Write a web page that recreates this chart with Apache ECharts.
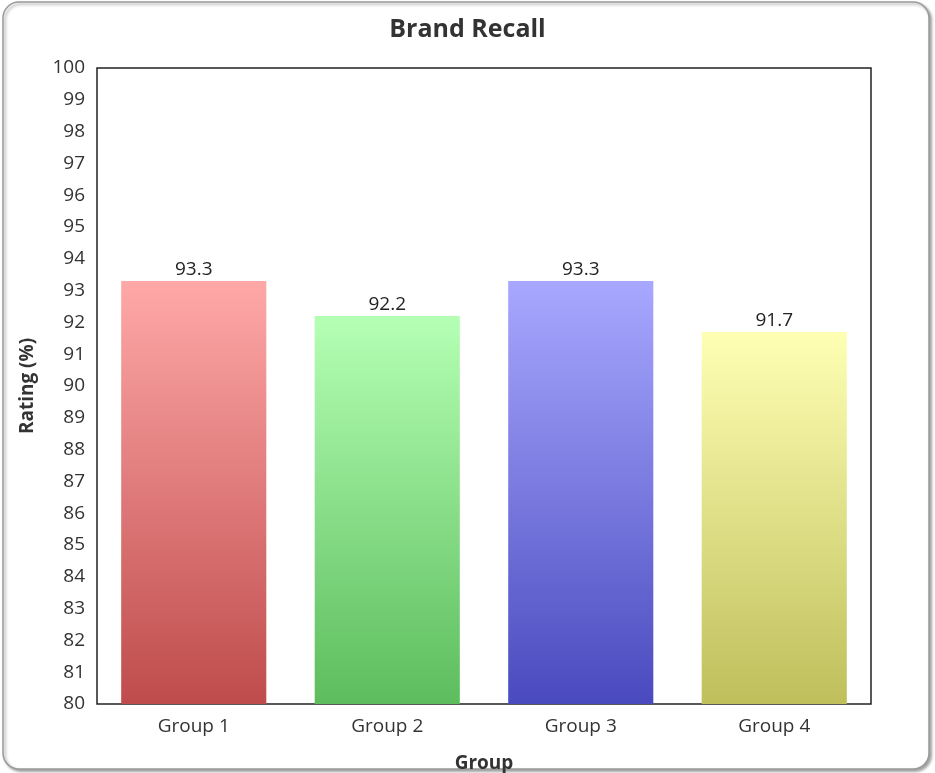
<!DOCTYPE html>
<html>
<head>
<meta charset="utf-8">
<style>
  html, body { margin: 0; padding: 0; background: #ffffff; }
  #chart { width: 935px; height: 773px; }
</style>
<script src="https://cdn.jsdelivr.net/npm/echarts@6/dist/echarts.min.js"></script>
</head>
<body>
<div id="chart"></div>
<script>
// Brand recall rating per group
const categories = ['Group 1', 'Group 2', 'Group 3', 'Group 4'];
const ratings = [93.3, 92.2, 93.3, 91.7];
// Gradient stops per bar: [top colour, bottom colour]
const barColors = [
  ['#ffa8a8', '#bf4c4c'],
  ['#b4ffb4', '#5dbd5d'],
  ['#a8a8ff', '#4a4abf'],
  ['#ffffb4', '#bfbf5c']
];

const FONT = '"Open Sans", "Noto Sans", sans-serif';
const chart = echarts.init(document.getElementById('chart'), null, { renderer: 'canvas' });

chart.setOption({
  animation: false,
  backgroundColor: '#ffffff',
  graphic: [{
    type: 'rect',
    z: -10,
    shape: { x: 3, y: 2, width: 926, height: 767, r: 16 },
    style: {
      fill: '#ffffff',
      stroke: '#9a9a9a',
      lineWidth: 1.5,
      shadowBlur: 3,
      shadowOffsetX: 2,
      shadowOffsetY: 2,
      shadowColor: 'rgba(0,0,0,0.35)'
    }
  }],
  title: {
    text: 'Brand Recall',
    left: 'center',
    top: 12,
    textStyle: { fontFamily: FONT, fontSize: 25, fontWeight: 'bold', color: '#333333' }
  },
  grid: {
    left: 97, right: 64, top: 68, bottom: 69,
    outerBoundsMode: 'none',
    containLabel: false,
    show: true,
    borderColor: '#222222',
    borderWidth: 1.5,
    backgroundColor: 'transparent'
  },
  xAxis: {
    type: 'category',
    data: categories,
    name: 'Group',
    nameLocation: 'middle',
    nameGap: 50,
    nameTextStyle: { fontFamily: FONT, fontSize: 19, fontWeight: 'bold', color: '#333333' },
    axisLine: { show: false },
    axisTick: { show: false },
    axisLabel: { fontFamily: FONT, fontSize: 19, color: '#333333', margin: 13 },
    splitLine: { show: false }
  },
  yAxis: {
    type: 'value',
    min: 80,
    max: 100,
    interval: 1,
    name: 'Rating (%)',
    nameLocation: 'middle',
    nameGap: 60,
    nameTextStyle: { fontFamily: FONT, fontSize: 19, fontWeight: 'bold', color: '#333333' },
    axisLine: { show: false },
    axisTick: { show: false },
    axisLabel: { fontFamily: FONT, fontSize: 19, color: '#333333', margin: 12 },
    splitLine: { show: false }
  },
  series: [{
    type: 'bar',
    barWidth: '75%',
    data: ratings.map((v, i) => ({
      value: v,
      itemStyle: {
        color: new echarts.graphic.LinearGradient(0, 0, 0, 1, [
          { offset: 0, color: barColors[i][0] },
          { offset: 1, color: barColors[i][1] }
        ])
      }
    })),
    label: {
      show: true,
      position: 'top',
      distance: 2,
      fontFamily: FONT,
      fontSize: 19,
      color: '#222222',
      formatter: p => p.value.toFixed(1)
    }
  }]
});
</script>
</body>
</html>
